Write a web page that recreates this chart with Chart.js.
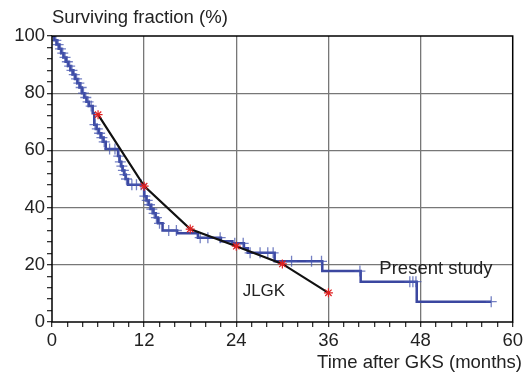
<!DOCTYPE html>
<html><head><meta charset="utf-8">
<script src="https://cdn.jsdelivr.net/npm/chart.js@4/dist/chart.umd.min.js"></script>
<style>html,body{margin:0;padding:0;background:#fff}#wrap{width:526px;height:375px;position:relative}</style>
</head><body><div id="wrap"><canvas id="c" width="526" height="375"></canvas></div>
<script>
// Kaplan-Meier step curve (time in months, surviving %)
const kmTime = [0,0.3,0.6,0.9,1.2,1.5,1.8,2.1,2.4,2.7,3.0,3.3,3.6,3.9,4.2,4.5,4.8,5.3,5.5,5.8,6.1,6.4,6.7,7.0,8.6,8.8,9.0,9.2,9.4,9.6,9.9,12.0,12.3,12.6,12.9,13.2,13.5,13.8,14.4,16.3,19.0,22.0,23.5,25.0,25.5,29.0,35.2,40.2,47.5,57.2];
const kmSurv = [100,98.5,97,95.5,94,92.5,91,89.5,88,86.5,85,83.5,82,80,78.5,77,75.5,73,69,67.5,66,64.5,63,60.5,58,56,54.5,53,51.5,50,48,44,42.5,41,39.5,38,36.5,34.5,32,31,29.5,28.2,27.5,25.8,24.2,21.2,17.8,14.1,7.1,7.1];
// censored observations (months)
const censorTime = [0.5,0.8,1.1,1.4,1.7,2.0,2.3,2.6,2.9,3.2,3.5,3.8,4.1,4.4,4.7,5.1,5.6,5.9,6.2,6.5,6.8,7.5,8.2,8.7,8.9,9.1,9.3,9.5,9.7,10.4,11.0,11.6,12.1,12.4,12.7,13.0,13.3,13.6,14.0,15.2,16.2,19.3,20.3,21.9,23.8,24.9,25.8,27.1,28.1,28.8,31.2,33.8,35.1,40.1,46.6,47.0,47.4,57.2];
// JLGK reference series
const jlgkTime = [6,12,18,24,30,36];
const jlgkSurv = [72.5,47.5,32.5,26.5,20.3,10.2];
const xTicks = [0,12,24,36,48,60];
const yTicks = [0,20,40,60,80,100];

function survAt(t){let s=kmSurv[0];for(let i=0;i<kmTime.length;i++){if(kmTime[i]<=t)s=kmSurv[i];}return s;}

const FONT = '"Liberation Sans", Arial, Helvetica, sans-serif';
const BLUE = '#3b47a0';

const textPlugin = {
  id:'texts',
  afterDraw(chart){
    const {ctx, chartArea:a, scales:{x,y}} = chart;
    ctx.save();
    ctx.strokeStyle='#000';ctx.lineWidth=1.5;
    ctx.strokeRect(a.left,a.top,a.right-a.left,a.bottom-a.top);
    ctx.fillStyle='#222';
    ctx.font='18.5px '+FONT;
    ctx.textBaseline='middle';
    ctx.textAlign='left';
    ctx.fillText('Surviving fraction (%)', a.left, 18);
    ctx.textAlign='right';
    ctx.fillText('Time after GKS (months)', 522, 363);
    ctx.textAlign='center';
    ctx.fillText('Present study', x.getPixelForValue(50.0), y.getPixelForValue(18.7));
    ctx.font='17px '+FONT;
    ctx.fillText('JLGK', x.getPixelForValue(27.6), y.getPixelForValue(10.6));
    ctx.restore();
  }
};

new Chart(document.getElementById('c'), {
  type:'line',
  data:{datasets:[
    {label:'JLGK', data: jlgkTime.map((t,i)=>({x:t,y:jlgkSurv[i]})), borderColor:'#111', borderWidth:2.2,
     pointStyle:'star', pointRadius:4.5, pointBorderColor:'#e02020', pointBackgroundColor:'#e02020', pointBorderWidth:1.2, order:0},
    {label:'censor', data: censorTime.map(t=>({x:t,y:survAt(t)})), showLine:false,
     pointStyle:'cross', pointRadius:5.5, pointBorderColor:'rgba(70,85,175,0.75)', pointBorderWidth:1.3, order:1},
    {label:'Present study', data: kmTime.map((t,i)=>({x:t,y:kmSurv[i]})), stepped:'before', borderColor:BLUE, borderWidth:2.5,
     pointRadius:0, order:2}
  ]},
  options:{
    responsive:false, animation:false,
    layout:{padding:{left:0,right:13,top:36,bottom:0}},
    plugins:{legend:{display:false},tooltip:{enabled:false}},
    scales:{
      x:{type:'linear',min:0,max:60,
        afterFit(s){s.height=53;},
        afterBuildTicks(s){s.ticks=[];for(let v=0;v<=60;v+=2)s.ticks.push({value:v});},
        ticks:{color:'#222',font:{family:FONT,size:18.5},padding:3,maxRotation:0,autoSkip:false,
          callback:v=>xTicks.includes(v)?String(v):''},
        grid:{drawTicks:true,tickLength:5,tickColor:'#333',
          color:c=>(c.tick&&xTicks.includes(c.tick.value)&&c.tick.value>0&&c.tick.value<60)?'#777':'rgba(0,0,0,0)',lineWidth:1.3},
        border:{display:false}
      },
      y:{type:'linear',min:0,max:100,
        afterFit(s){s.width=52;},
        afterBuildTicks(s){s.ticks=[];for(let v=0;v<=100;v+=4)s.ticks.push({value:v});},
        ticks:{color:'#222',font:{family:FONT,size:18.5},padding:2,autoSkip:false,
          callback:v=>yTicks.includes(v)?String(v):''},
        grid:{drawTicks:true,tickLength:5,tickColor:'#333',
          color:c=>(c.tick&&yTicks.includes(c.tick.value)&&c.tick.value>0&&c.tick.value<100)?'#777':'rgba(0,0,0,0)',lineWidth:1.3},
        border:{display:false}
      }
    }
  },
  plugins:[textPlugin]
});
</script></body></html>
